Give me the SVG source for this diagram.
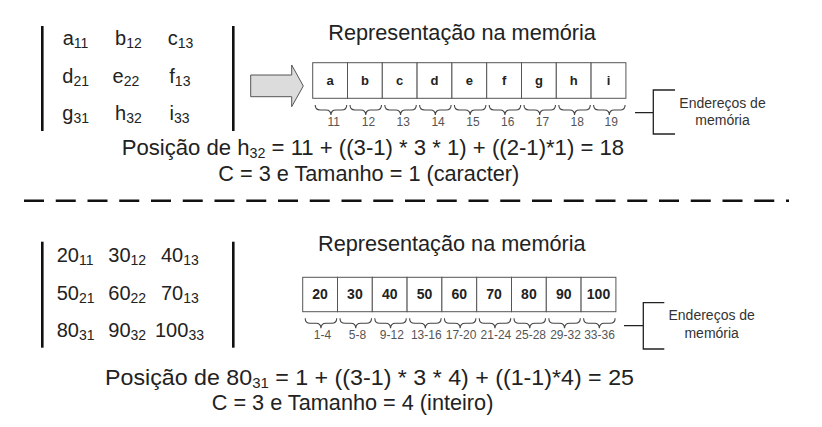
<svg xmlns="http://www.w3.org/2000/svg" xmlns:xlink="http://www.w3.org/1999/xlink" width="822" height="427" viewBox="0 0 822 427">
<style>
  text { font-family: "Liberation Sans", Arial, sans-serif; fill: #222; }
  .m { font-size: 20px; }
  .s { font-size: 14px; }
  .big { font-size: 21.7px; }
  .cell { font-size: 13px; font-weight: bold; text-anchor: middle; }
  .cell2 { font-size: 14px; font-weight: bold; text-anchor: middle; }
  .lab { font-size: 12px; fill: #555; text-anchor: middle; }
  .leg { font-size: 14px; fill: #333; text-anchor: middle; }
  .bar { stroke: #111; stroke-width: 2.6; fill: none; }
  .box { fill: #fff; stroke: #555; stroke-width: 1; }
  .brace { fill: none; stroke: #444; stroke-width: 1.1; }
  .bk { fill: none; stroke: #222; stroke-width: 1.3; }
</style>
<defs>
  <path id="br" d="M0,0 q0,5 5,5 h5.75 q5,0 5,5 q0,-5 5,-5 h5.75 q5,0 5,-5"/>
</defs>

<rect width="822" height="427" fill="#fff"/>

<!-- Top matrix -->
<g id="matrix-top">
  <line class="bar" x1="42.3" y1="26" x2="42.3" y2="131"/>
  <line class="bar" x1="233.3" y1="26" x2="233.3" y2="131"/>
  <text class="m" x="62.7" y="45">a<tspan class="s" dy="3">11</tspan></text>
  <text class="m" x="115" y="45">b<tspan class="s" dy="3">12</tspan></text>
  <text class="m" x="167.7" y="45">c<tspan class="s" dy="3">13</tspan></text>
  <text class="m" x="62.3" y="83">d<tspan class="s" dy="3">21</tspan></text>
  <text class="m" x="112.5" y="83">e<tspan class="s" dy="3">22</tspan></text>
  <text class="m" x="169.3" y="83">f<tspan class="s" dy="3">13</tspan></text>
  <text class="m" x="62.3" y="120">g<tspan class="s" dy="3">31</tspan></text>
  <text class="m" x="115" y="120">h<tspan class="s" dy="3">32</tspan></text>
  <text class="m" x="169.5" y="120">i<tspan class="s" dy="3">33</tspan></text>
</g>

<g id="arrow-top">
  <polygon points="250.7,75 291.7,75 291.7,65 303.3,86 291.7,106.7 291.7,96.7 250.7,96.7" fill="#dcdcdc" stroke="#555" stroke-width="1"/>
</g>

<g id="title-top">
  <text class="big" x="328.3" y="40">Representação na memória</text>
</g>

<g id="array-top">
  <rect class="box" x="312.7" y="62.7" width="34.8" height="35.6"/>
  <rect class="box" x="347.5" y="62.7" width="34.8" height="35.6"/>
  <rect class="box" x="382.3" y="62.7" width="34.8" height="35.6"/>
  <rect class="box" x="417.1" y="62.7" width="34.8" height="35.6"/>
  <rect class="box" x="451.9" y="62.7" width="34.8" height="35.6"/>
  <rect class="box" x="486.7" y="62.7" width="34.8" height="35.6"/>
  <rect class="box" x="521.5" y="62.7" width="34.8" height="35.6"/>
  <rect class="box" x="556.3" y="62.7" width="34.8" height="35.6"/>
  <rect class="box" x="591.1" y="62.7" width="34.8" height="35.6"/>
  <text class="cell" x="330.1" y="85">a</text>
  <text class="cell" x="364.9" y="85">b</text>
  <text class="cell" x="399.7" y="85">c</text>
  <text class="cell" x="434.5" y="85">d</text>
  <text class="cell" x="469.3" y="85">e</text>
  <text class="cell" x="504.1" y="85">f</text>
  <text class="cell" x="538.9" y="85">g</text>
  <text class="cell" x="573.7" y="85">h</text>
  <text class="cell" x="608.5" y="85">i</text>
</g>

<g id="braces-top" class="brace">
  <use xlink:href="#br" href="#br" x="315.2" y="105"/>
  <use xlink:href="#br" href="#br" x="350.0" y="105"/>
  <use xlink:href="#br" href="#br" x="384.8" y="105"/>
  <use xlink:href="#br" href="#br" x="419.6" y="105"/>
  <use xlink:href="#br" href="#br" x="454.4" y="105"/>
  <use xlink:href="#br" href="#br" x="489.2" y="105"/>
  <use xlink:href="#br" href="#br" x="524.0" y="105"/>
  <use xlink:href="#br" href="#br" x="558.8" y="105"/>
  <use xlink:href="#br" href="#br" x="593.6" y="105"/>
</g>
<g id="labels-top">
  <text class="lab" x="333.7" y="126">11</text>
  <text class="lab" x="368.5" y="126">12</text>
  <text class="lab" x="403.3" y="126">13</text>
  <text class="lab" x="438.1" y="126">14</text>
  <text class="lab" x="472.9" y="126">15</text>
  <text class="lab" x="507.7" y="126">16</text>
  <text class="lab" x="542.5" y="126">17</text>
  <text class="lab" x="577.3" y="126">18</text>
  <text class="lab" x="611.3" y="126">19</text>
</g>

<g id="legend-top">
  <path class="bk" d="M635,112.7 H653.3 M675,90 H653.3 V134 H675"/>
  <text class="leg" x="722.5" y="108.3">Endereços de</text>
  <text class="leg" x="722.5" y="125">memória</text>
</g>

<g id="formula-top">
  <text class="big" transform="translate(121.7,155) scale(1.02,1)" x="0" y="0">Posição de h<tspan class="s" dy="3">32</tspan><tspan dy="-3"> = 11 + ((3-1) * 3 * 1) + ((2-1)*1) = 18</tspan></text>
  <text class="big" x="218.3" y="181">C = 3 e Tamanho = 1 (caracter)</text>
</g>

<g id="separator">
  <line x1="24" y1="200.7" x2="789" y2="200.7" stroke="#111" stroke-width="2.6" stroke-dasharray="20 11.75"/>
</g>

<!-- Bottom matrix -->
<g id="matrix-bottom">
  <line class="bar" x1="42.3" y1="241.7" x2="42.3" y2="347.7"/>
  <line class="bar" x1="233.3" y1="241.7" x2="233.3" y2="347.7"/>
  <text class="m" x="56.7" y="261.7">20<tspan class="s" dy="3">11</tspan></text>
  <text class="m" x="108.3" y="261.7">30<tspan class="s" dy="3">12</tspan></text>
  <text class="m" x="161" y="261.7">40<tspan class="s" dy="3">13</tspan></text>
  <text class="m" x="56.7" y="300">50<tspan class="s" dy="3">21</tspan></text>
  <text class="m" x="108.3" y="300">60<tspan class="s" dy="3">22</tspan></text>
  <text class="m" x="161" y="300">70<tspan class="s" dy="3">13</tspan></text>
  <text class="m" x="56.7" y="336.7">80<tspan class="s" dy="3">31</tspan></text>
  <text class="m" x="108.3" y="336.7">90<tspan class="s" dy="3">32</tspan></text>
  <text class="m" x="155" y="336.7">100<tspan class="s" dy="3">33</tspan></text>
</g>

<g id="title-bottom">
  <text class="big" x="318" y="251">Representação na memória</text>
</g>

<g id="array-bottom">
  <rect class="box" x="302.7" y="277.3" width="34.8" height="34.4"/>
  <rect class="box" x="337.5" y="277.3" width="34.8" height="34.4"/>
  <rect class="box" x="372.3" y="277.3" width="34.8" height="34.4"/>
  <rect class="box" x="407.1" y="277.3" width="34.8" height="34.4"/>
  <rect class="box" x="441.9" y="277.3" width="34.8" height="34.4"/>
  <rect class="box" x="476.7" y="277.3" width="34.8" height="34.4"/>
  <rect class="box" x="511.5" y="277.3" width="34.8" height="34.4"/>
  <rect class="box" x="546.3" y="277.3" width="34.8" height="34.4"/>
  <rect class="box" x="581.1" y="277.3" width="34.8" height="34.4"/>
  <text class="cell2" x="320.1" y="299.3">20</text>
  <text class="cell2" x="354.9" y="299.3">30</text>
  <text class="cell2" x="389.7" y="299.3">40</text>
  <text class="cell2" x="424.5" y="299.3">50</text>
  <text class="cell2" x="459.3" y="299.3">60</text>
  <text class="cell2" x="494.1" y="299.3">70</text>
  <text class="cell2" x="528.9" y="299.3">80</text>
  <text class="cell2" x="563.7" y="299.3">90</text>
  <text class="cell2" x="598.5" y="299.3">100</text>
</g>

<g id="braces-bottom" class="brace">
  <use xlink:href="#br" href="#br" x="305.2" y="318.3"/>
  <use xlink:href="#br" href="#br" x="340.0" y="318.3"/>
  <use xlink:href="#br" href="#br" x="374.8" y="318.3"/>
  <use xlink:href="#br" href="#br" x="409.6" y="318.3"/>
  <use xlink:href="#br" href="#br" x="444.4" y="318.3"/>
  <use xlink:href="#br" href="#br" x="479.2" y="318.3"/>
  <use xlink:href="#br" href="#br" x="514.0" y="318.3"/>
  <use xlink:href="#br" href="#br" x="548.8" y="318.3"/>
  <use xlink:href="#br" href="#br" x="583.6" y="318.3"/>
</g>
<g id="labels-bottom">
  <text class="lab" x="322.5" y="339">1-4</text>
  <text class="lab" x="357.5" y="339">5-8</text>
  <text class="lab" x="391.8" y="339">9-12</text>
  <text class="lab" x="426.3" y="339">13-16</text>
  <text class="lab" x="461.1" y="339">17-20</text>
  <text class="lab" x="495.9" y="339">21-24</text>
  <text class="lab" x="530.7" y="339">25-28</text>
  <text class="lab" x="565.5" y="339">29-32</text>
  <text class="lab" x="599.5" y="339">33-36</text>
</g>

<g id="legend-bottom">
  <path class="bk" d="M624,325.7 H643.3 M664.3,302.7 H643.3 V349 H664.3"/>
  <text class="leg" x="711.7" y="320">Endereços de</text>
  <text class="leg" x="711.7" y="338.3">memória</text>
</g>

<g id="formula-bottom">
  <text class="big" transform="translate(105,385) scale(1.07,1)" x="0" y="0">Posição de 80<tspan class="s" dy="3">31</tspan><tspan dy="-3"> = 1 + ((3-1) * 3 * 4) + ((1-1)*4) = 25</tspan></text>
  <text class="big" x="211.7" y="410">C = 3 e Tamanho = 4 (inteiro)</text>
</g>
</svg>
